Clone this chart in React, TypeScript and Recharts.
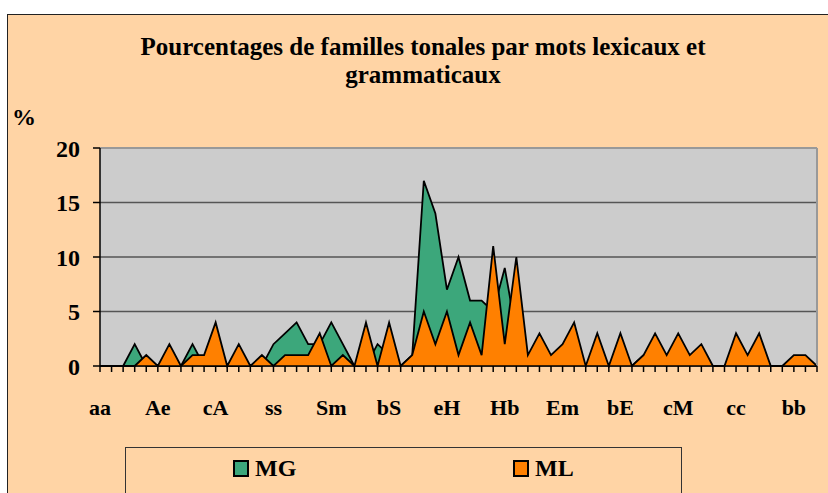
import { AreaChart, Area, XAxis, YAxis, CartesianGrid, ReferenceLine } from "recharts";

// tick labels shown every fifth category
const tickLabels = ["aa", "Ae", "cA", "ss", "Sm", "bS", "eH", "Hb", "Em", "bE", "cM", "cc", "bb"];

// percentages per category, 63 categories
const mgValues = [
  0, 0, 0, 2, 0, 0, 0, 0, 2, 0, 0, 0, 0, 0, 0, 2, 3, 4, 2, 2, 4, 2, 0, 0, 2, 1, 0, 1, 17, 14, 7,
  10, 6, 6, 5, 9, 3, 1, 2, 1, 1, 2, 0, 1, 0, 2, 0, 1, 1, 0, 2, 1, 1, 0, 0, 1, 0, 2, 0, 0, 0, 0, 0,
];
const mlValues = [
  0, 0, 0, 0, 1, 0, 2, 0, 1, 1, 4, 0, 2, 0, 1, 0, 1, 1, 1, 3, 0, 1, 0, 4, 0, 4, 0, 1, 5, 2, 5,
  1, 4, 1, 11, 2, 10, 1, 3, 1, 2, 4, 0, 3, 0, 3, 0, 1, 3, 1, 3, 1, 2, 0, 0, 3, 1, 3, 0, 0, 1, 1, 0,
];
const yTicks = [0, 5, 10, 15, 20];

const data = mgValues.map((mg, i) => ({ i, MG: mg, ML: mlValues[i] }));
const xTicks = data.map((d) => d.i);

const serif = "Liberation Serif, Times New Roman, Times, serif";
const green = "#3CA77B";
const orange = "#FF8000";

export default function App() {
  return (
    <div style={{ position: "absolute", left: 0, top: 0, width: 828, height: 493, overflow: "hidden", background: "#fff" }}>
      <div
        style={{
          position: "absolute",
          left: 7,
          top: 14,
          width: 840,
          height: 500,
          border: "1px solid #222",
          background: "#FFD4A5",
        }}
      />
      <div
        style={{
          position: "absolute",
          left: 73,
          top: 33,
          width: 700,
          textAlign: "center",
          fontFamily: serif,
          fontWeight: "bold",
          fontSize: 25,
          lineHeight: "28px",
        }}
      >
        Pourcentages de familles tonales par mots lexicaux et
        <br />
        grammaticaux
      </div>
      <div style={{ position: "absolute", left: 12, top: 105, fontFamily: serif, fontWeight: "bold", fontSize: 24, lineHeight: "24px" }}>%</div>

      <div style={{ position: "absolute", left: 0, top: 0 }}>
        <AreaChart width={828} height={493} data={data} margin={{ top: 148, right: 11, bottom: 77, left: 40 }}>
          <CartesianGrid vertical={false} stroke="#555" strokeWidth={1.5} fill="#CCCCCC" />
          <XAxis
            dataKey="i"
            type="number"
            domain={[0, 62]}
            ticks={xTicks}
            interval={0}
            height={50}
            tickSize={6}
            tickMargin={27}
            stroke="#000"
            strokeWidth={1.5}
            tickFormatter={(v: number) => (v % 5 === 0 ? tickLabels[v / 5] ?? "" : "")}
            tick={{ fill: "#000", fontFamily: serif, fontWeight: "bold", fontSize: 22 }}
          />
          <YAxis
            type="number"
            domain={[0, 20]}
            ticks={yTicks}
            width={60}
            tickSize={7}
            tickMargin={13}
            stroke="#000"
            strokeWidth={1.5}
            tick={{ fill: "#000", fontFamily: serif, fontWeight: "bold", fontSize: 24 }}
          />
          <ReferenceLine y={20} stroke="#999" strokeWidth={2} />
          <ReferenceLine x={62} stroke="#999" strokeWidth={2} />
          <Area
            type="linear"
            dataKey="MG"
            stroke="#000"
            strokeWidth={1.8}
            fill={green}
            fillOpacity={1}
            isAnimationActive={false}
          />
          <Area
            type="linear"
            dataKey="ML"
            stroke="#000"
            strokeWidth={1.8}
            fill={orange}
            fillOpacity={1}
            isAnimationActive={false}
          />
        </AreaChart>
      </div>

      <div
        style={{
          position: "absolute",
          left: 125,
          top: 447,
          width: 555,
          height: 60,
          border: "1px solid #333",
          fontFamily: serif,
          fontWeight: "bold",
          fontSize: 24,
        }}
      >
        {[
          { name: "MG", color: green, left: 107 },
          { name: "ML", color: orange, left: 387 },
        ].map((s) => (
          <div key={s.name} style={{ position: "absolute", left: s.left, top: 8, display: "flex", alignItems: "center" }}>
            <span style={{ width: 12, height: 13, border: "2px solid #000", background: s.color, marginRight: 6 }} />
            <span style={{ lineHeight: "24px" }}>{s.name}</span>
          </div>
        ))}
      </div>
    </div>
  );
}
